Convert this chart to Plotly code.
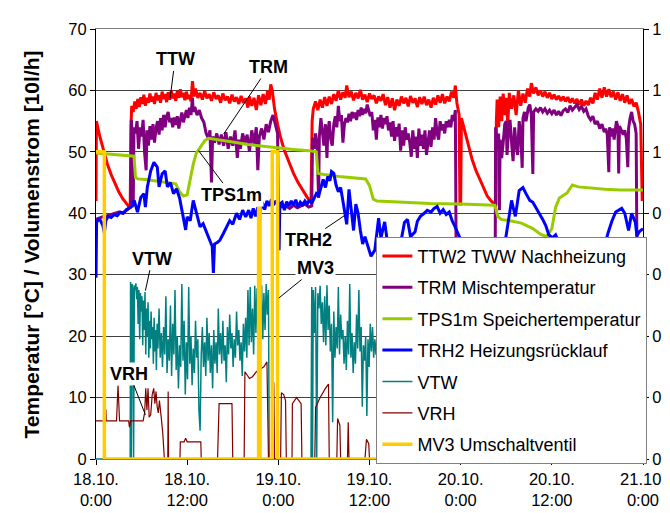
import plotly.graph_objects as go

# ---------------- data (hours since 18.10. 0:00) ----------------
ttw_t = [0.0,0.05,0.5,1.0,1.5,2.0,2.5,3.0,3.5,4.0,4.5,4.6,4.7,4.9,5.1,5.3,5.5,5.7,5.9,6.1,6.3,6.5,6.7,6.9,7.1,7.3,7.5,7.7,7.9,8.1,8.3,8.5,8.7,8.9,9.1,9.3,9.5,9.7,9.9,10.1,10.3,10.5,10.7,10.9,11.1,11.3,11.5,11.7,11.9,12.1,12.3,12.5,12.7,12.9,
         13.1,13.4,13.7,14.0,14.3,14.6,14.9,15.2,15.5,15.8,16.1,16.4,16.7,17.0,17.3,17.6,17.9,18.2,18.5,18.8,19.1,19.4,19.7,20.0,20.2,20.5,20.8,21.1,21.4,21.7,22.0,22.3,22.6,22.8,23.0,23.2,23.5,23.9,24.3,24.8,25.4,26.0,26.6,27.2,27.8,28.3,
         28.45,28.6,28.9,29.2,29.5,29.8,30.1,30.4,30.7,31.0,31.3,31.6,31.9,32.2,32.5,32.8,33.0,33.3,33.6,33.9,34.2,34.5,34.8,35.1,35.4,35.7,36.0,36.3,36.6,36.9,37.2,37.5,37.8,38.1,38.4,38.7,39.0,39.3,39.6,39.9,40.2,40.5,40.8,41.1,41.4,41.7,42.0,42.3,42.6,42.9,43.2,43.5,43.8,44.1,44.4,44.7,45.0,45.3,45.6,45.9,46.2,46.5,46.8,47.1,47.3,47.5,47.8,47.9,48.0,48.1,48.5,49.0,49.5,50.0,50.5,51.0,51.5,52.0,52.5,52.65,
         52.7,52.8,53.0,53.2,53.4,53.6,53.8,54.0,54.2,54.4,54.7,55.0,55.3,55.6,55.9,56.2,56.5,56.8,57.1,57.3,57.6,57.9,58.2,58.5,58.8,59.1,59.4,59.7,60.0,60.3,60.6,60.9,61.2,61.5,61.8,62.1,62.4,62.7,63.0,63.3,63.6,63.9,64.2,64.5,64.8,65.1,65.4,65.7,66.0,66.3,66.6,66.9,67.2,67.5,67.8,68.1,68.4,68.7,69.0,69.3,69.6,69.9,70.2,70.5,70.8,71.1,71.4,71.7,71.9]
ttw_v = [42.0,55.0,52.5,50.0,48.0,46.3,44.8,43.5,42.4,41.5,40.8,54.0,57.5,56.5,58.2,57.0,58.6,57.3,58.9,57.8,59.3,57.5,58.8,58.0,59.5,58.2,59.0,57.8,59.6,58.4,59.2,58.0,59.8,58.6,59.4,58.1,59.7,58.5,60.0,58.7,59.5,58.3,59.9,58.8,60.2,58.9,59.6,58.4,59.8,58.6,59.3,58.2,61.5,59.0,
         60.3,58.8,59.6,58.5,59.9,58.7,59.4,58.3,59.7,58.6,59.2,58.0,59.5,58.4,59.0,57.9,59.3,58.2,58.9,57.8,59.1,58.0,58.7,57.2,59.0,57.5,58.8,56.8,59.2,57.6,59.4,57.8,60.0,58.5,61.0,60.0,57.0,54.5,52.3,50.2,48.2,46.5,45.0,43.7,42.6,41.8,
         55.0,57.0,58.2,56.8,58.5,57.2,58.9,57.5,59.0,57.8,59.4,58.3,60.0,58.5,59.7,58.8,60.8,58.9,59.8,58.4,59.6,58.7,60.1,58.5,59.3,58.1,59.5,58.6,59.2,57.9,59.0,58.3,59.4,57.6,58.9,57.2,58.7,56.8,58.5,57.5,59.0,57.9,58.8,57.4,59.1,58.0,58.7,57.3,58.9,57.8,59.0,57.6,58.5,57.2,58.8,57.7,59.2,58.0,59.4,57.9,59.0,58.2,59.8,58.8,60.8,58.0,56.0,41.5,41.5,55.5,53.5,51.0,48.8,47.0,45.5,44.0,42.8,42.0,41.5,41.3,
         55.0,58.5,54.0,59.0,55.0,59.5,56.0,58.8,54.5,59.6,57.0,59.2,56.0,60.0,57.5,59.5,58.0,60.3,59.0,61.2,59.5,60.5,59.2,60.0,59.0,59.8,58.8,59.6,58.6,59.3,58.5,59.1,58.3,59.0,58.2,58.9,58.0,58.7,57.9,58.6,57.7,58.5,57.5,58.3,57.6,58.8,57.9,59.6,58.5,60.3,58.8,60.5,59.0,60.2,58.9,59.8,58.5,59.7,58.3,59.4,58.0,59.2,57.8,58.6,57.4,58.0,56.5,54.5,42.0]

trm_t = [0.0,0.5,1.0,1.5,2.0,2.5,3.0,3.5,4.0,4.4,4.55,4.65,4.8,4.9,5.0,5.2,5.4,5.6,5.8,6.0,6.2,6.4,6.6,6.7,6.9,7.1,7.3,7.5,7.7,7.9,8.1,8.3,8.5,8.7,8.9,9.1,9.3,9.5,9.7,9.9,10.1,10.3,10.5,10.7,10.9,11.1,11.3,11.5,11.7,11.9,12.1,12.3,12.5,12.7,12.8,13.0,13.3,13.6,13.9,14.2,14.5,14.8,15.0,15.2,15.35,15.6,15.9,16.2,16.5,16.8,17.1,17.4,17.7,18.0,18.3,18.6,18.8,19.0,19.3,19.6,19.9,20.2,20.5,20.8,21.1,21.3,21.5,21.8,22.1,22.4,22.7,23.0,23.3,23.6,23.9,24.0,
         24.3,25.0,25.5,26.0,26.5,27.0,27.5,28.0,28.4,
         28.5,28.7,28.9,29.1,29.3,29.4,29.6,29.8,30.0,30.2,30.4,30.5,30.7,30.9,31.1,31.3,31.5,31.7,31.9,32.1,32.3,32.5,32.7,32.9,33.1,33.3,33.5,33.7,33.9,34.1,34.3,34.5,34.7,34.9,35.1,35.3,35.5,35.7,35.9,36.1,36.3,36.5,36.7,36.9,37.1,37.3,37.5,37.7,37.9,38.1,38.3,38.5,38.7,38.9,39.1,39.3,39.5,39.7,39.9,40.1,40.3,40.5,40.7,40.9,41.1,41.3,41.5,41.7,41.9,42.1,42.3,42.5,42.7,42.9,43.1,43.3,43.5,43.7,43.9,44.1,44.3,44.5,44.7,44.9,45.1,45.3,45.5,45.7,45.9,46.1,46.3,46.5,46.7,46.9,47.1,47.3,47.4,
         50.0,52.55,52.6,52.8,53.0,53.1,53.2,53.4,53.6,53.8,54.0,54.1,54.3,54.5,54.7,54.9,55.1,55.3,55.5,55.7,55.9,56.1,56.2,56.4,56.6,56.9,57.1,57.3,57.5,57.6,57.9,58.2,58.5,58.8,59.1,59.4,59.7,60.0,60.3,60.6,60.9,61.2,61.5,61.8,62.1,62.4,62.7,63.0,63.3,63.6,63.9,64.2,64.5,64.8,65.1,65.4,65.7,66.0,66.3,66.6,66.9,67.1,67.3,67.5,67.6,67.8,68.0,68.2,68.5,68.7,68.8,68.9,69.1,69.4,69.6,69.8,70.0,70.1,70.3,70.5,70.7,70.9,71.1,71.2,72.0]
trm_v = [39.0,39.3,39.5,39.6,39.8,40.0,40.2,40.0,40.5,40.8,41.0,55.2,52.0,41.5,54.0,53.0,55.0,50.5,54.0,52.5,55.2,49.8,47.0,53.5,51.0,54.2,52.0,54.5,51.5,53.8,55.0,52.8,55.5,53.5,56.0,54.0,55.8,56.5,54.8,55.5,54.0,55.6,54.4,55.8,53.8,55.2,56.4,54.8,56.0,56.8,55.5,57.2,56.0,58.8,56.5,57.3,56.0,56.8,55.5,54.8,53.0,52.2,53.5,45.0,52.5,51.5,53.0,51.2,52.8,51.0,53.2,50.5,52.5,51.0,53.5,49.0,52.0,50.5,53.0,51.5,52.8,50.0,53.5,51.2,54.0,47.0,52.5,53.8,52.0,54.5,53.2,55.0,56.0,54.5,53.0,41.5,
         41.0,41.2,40.8,41.3,40.9,41.2,41.5,41.0,41.2,
         52.3,50.5,53.0,51.0,42.5,52.5,55.5,53.5,51.0,54.5,49.0,53.0,55.0,52.0,51.0,54.5,55.8,54.0,57.5,55.0,56.0,51.5,54.5,55.5,54.8,56.2,55.0,56.5,55.5,56.4,55.2,56.8,55.8,57.2,56.0,57.0,56.3,57.7,56.5,55.8,56.5,53.5,55.2,52.0,55.6,54.0,56.0,53.8,55.5,54.5,55.8,53.5,54.8,52.5,55.0,51.8,54.0,52.5,54.6,50.2,53.5,51.0,54.0,52.0,53.0,51.5,49.2,53.5,50.5,52.5,49.0,53.8,51.0,52.8,50.5,53.5,49.5,52.0,53.5,50.8,54.0,52.0,55.5,53.0,52.0,55.0,53.5,54.5,53.0,55.0,54.0,55.2,54.0,56.0,55.0,56.8,34.0,
         33.5,34.0,54.0,50.5,53.0,40.5,52.0,49.0,51.5,54.5,55.0,49.5,53.5,55.2,51.5,48.5,54.0,51.0,49.5,55.0,53.0,47.4,55.5,56.5,55.0,57.2,57.7,56.0,46.4,56.5,57.0,56.6,57.2,56.5,57.0,56.3,56.8,56.2,56.8,56.0,56.6,55.9,56.7,57.0,56.4,57.5,56.8,57.3,57.7,56.9,57.4,56.6,57.0,55.8,55.2,55.8,54.5,55.0,53.8,54.5,53.2,53.8,52.8,46.7,54.0,52.5,53.8,52.0,55.0,54.0,46.5,54.2,53.5,52.8,53.5,52.2,47.5,53.8,55.5,56.5,55.0,54.5,53.0,34.0,34.0]

tps_t = [0.0,1.0,2.0,3.0,4.0,5.0,5.2,5.5,6.5,7.5,8.5,9.5,10.5,11.0,11.5,12.0,12.4,12.8,13.2,13.8,14.3,14.8,16.0,18.0,20.0,22.0,24.0,26.0,28.0,29.0,29.2,30.0,32.0,34.0,35.5,36.0,36.5,37.0,40.0,44.0,48.0,52.5,52.9,53.3,54.5,56.0,57.5,58.5,59.3,60.0,60.5,61.0,62.0,62.7,63.5,65.0,67.0,69.0,72.0]
tps_v = [49.8,49.7,49.6,49.5,49.4,49.3,45.8,45.6,45.5,45.3,45.2,45.0,44.8,43.5,42.8,43.0,45.5,48.0,49.8,51.0,51.8,52.2,52.0,51.6,51.2,50.9,50.6,50.4,50.2,50.0,46.5,46.3,46.0,45.8,45.6,44.5,42.3,42.0,41.8,41.6,41.5,41.3,39.5,39.0,38.8,38.4,37.5,36.6,36.2,37.5,41.0,42.5,43.3,44.6,44.3,44.1,43.9,43.8,43.8]

trh_t = [0.0,0.08,0.3,0.6,0.9,1.1,1.3,1.6,2.0,2.4,2.8,3.2,3.6,4.0,4.4,4.8,5.03,5.46,5.9,6.3,6.5,6.76,7.2,7.63,8.07,8.3,8.7,9.1,9.4,9.8,10.2,10.6,11.0,11.5,11.8,12.0,12.4,12.8,13.2,13.7,14.1,14.6,15.0,15.3,15.45,15.6,16.0,16.3,16.8,17.2,17.6,18.0,18.5,18.9,19.3,19.7,20.1,20.4,20.7,21.0,21.3,21.6,21.9,22.2,22.5,22.8,23.1,23.4,23.7,24.0,24.1,24.2,24.5,24.8,25.1,25.4,25.7,26.0,26.3,26.6,26.9,27.2,27.5,27.8,28.1,28.4,28.7,29.0,29.3,29.6,29.9,30.2,30.5,30.8,31.0,31.3,31.6,31.9,32.2,32.5,32.8,33.0,33.3,33.6,33.9,34.2,34.5,34.8,35.1,35.4,35.8,36.2,36.7,37.2,37.5,38.0,38.5,40.0,40.6,41.0,41.4,42.0,42.3,42.7,43.2,43.6,44.1,44.5,44.9,45.3,45.7,46.1,46.5,46.9,47.2,47.5,47.9,48.5,50.0,52.0,53.5,54.0,54.4,54.7,54.9,55.2,55.7,56.2,56.6,57.1,57.5,57.9,58.4,58.8,59.2,59.6,60.1,60.5,61.0,63.0,65.0,66.8,67.4,67.9,68.4,68.8,69.2,69.6,70.1,70.5,71.0,71.2,71.5,72.0]
trh_v = [29.5,38.5,39.0,38.8,38.0,36.8,38.8,39.5,39.3,39.8,39.6,40.2,40.0,40.6,40.9,41.2,42.1,40.2,42.6,43.2,41.0,44.3,46.9,48.3,47.5,44.3,46.4,46.9,44.3,45.0,43.2,44.0,42.5,39.4,37.3,39.4,38.8,42.1,40.0,37.8,38.3,36.7,35.6,34.6,30.3,35.0,35.3,35.6,36.8,37.8,38.8,38.2,40.0,39.0,40.5,39.4,40.5,39.2,40.8,39.5,41.0,40.2,41.8,40.6,42.0,41.2,42.3,41.5,42.0,41.0,34.0,41.5,41.8,40.5,41.9,41.2,42.0,41.3,42.2,41.0,41.8,41.4,42.0,41.5,42.2,41.6,42.5,43.2,42.8,44.0,45.5,44.2,46.0,45.3,46.8,46.5,44.6,43.5,44.2,42.0,39.2,38.2,43.9,40.0,37.2,41.5,40.0,37.2,35.0,36.2,34.5,33.0,34.0,39.2,36.0,38.6,34.0,34.5,38.5,39.0,36.2,37.0,38.7,39.5,40.0,40.5,40.2,40.8,41.1,40.0,40.6,39.8,40.2,38.7,38.0,37.2,36.0,33.0,32.0,31.5,33.0,36.5,40.0,42.1,41.0,39.5,43.7,44.2,43.2,42.1,41.8,41.0,40.0,39.0,38.0,36.5,36.0,36.5,35.0,33.0,32.5,34.0,36.8,38.7,40.2,40.5,40.8,40.0,37.2,40.0,38.5,36.3,37.0,37.5]

vtw_t = [0.0,4.5,4.55,4.65,4.75,4.85,4.95,5.05,5.15,5.25,5.35,5.45,5.55,5.65,5.75,5.85,5.95,6.05,6.15,6.25,6.35,6.45,6.55,6.65,6.75,6.85,6.95,7.05,7.15,7.25,7.35,7.45,7.55,7.65,7.75,7.85,7.95,8.05,8.15,8.3,8.45,8.6,8.75,8.9,9.05,9.2,9.35,9.5,9.65,9.8,9.95,10.1,10.25,10.4,10.55,10.7,10.85,11.0,11.15,11.3,11.45,11.6,11.75,11.9,12.05,12.2,12.35,12.5,12.65,12.8,12.95,13.1,13.25,13.4,13.55,13.7,13.85,14.0,14.15,14.3,14.45,14.6,14.75,14.9,15.05,15.2,15.35,15.5,15.65,15.8,15.95,16.1,16.25,16.4,16.55,16.7,16.85,17.0,17.15,17.3,17.45,17.6,17.75,17.9,18.05,18.2,18.35,18.5,18.65,18.8,18.95,19.1,19.25,19.4,19.55,19.7,19.85,20.0,20.15,20.3,20.45,20.6,20.75,20.9,21.05,21.2,21.35,21.5,21.65,21.8,21.95,22.1,22.25,22.4,22.55,22.7,22.8,
         28.3,28.4,28.5,28.6,28.75,28.9,29.05,29.2,29.35,29.5,29.65,29.8,29.95,30.1,30.25,30.4,30.55,30.7,30.85,31.0,31.15,31.3,31.45,31.6,31.75,31.9,32.05,32.2,32.35,32.5,32.65,32.8,32.95,33.1,33.25,33.4,33.55,33.7,33.85,34.0,34.15,34.3,34.45,34.6,34.75,34.9,35.05,35.2,35.35,35.5,35.65,35.8,35.95,36.1,36.25,36.4,36.55,36.7,36.85,37.0,37.5,38.0,
         52.6,52.7,53.5,55.0,57.0,60.0,63.0,66.0,69.0,71.2,72.0]
vtw_v = [0.0,0.0,28.8,0.0,28.5,27.8,0.0,28.3,27.5,28.6,26.0,28.0,22.0,27.5,19.5,27.0,24.0,26.5,18.5,25.8,21.0,27.2,17.0,24.5,20.0,25.5,16.5,22.5,18.0,24.0,19.5,21.5,15.5,23.0,17.5,21.0,14.5,22.0,18.0,24.5,16.5,20.5,15.0,21.5,17.0,26.5,14.0,19.5,16.0,25.0,13.5,22.0,17.0,27.5,14.5,20.0,11.5,18.5,15.0,28.5,16.0,22.5,10.5,19.0,13.0,28.0,15.5,20.0,12.0,18.0,14.0,22.5,16.5,19.5,8.0,4.6,17.0,21.5,15.0,19.0,13.5,23.0,16.0,20.5,14.0,18.5,11.5,21.0,15.5,19.0,14.0,24.5,17.0,20.5,15.5,22.5,16.0,18.5,12.5,21.5,17.0,23.5,18.0,20.5,15.0,19.5,16.5,24.0,18.5,21.0,16.0,19.0,13.5,22.0,17.5,23.0,16.5,27.5,18.5,28.0,19.0,24.5,17.0,28.2,20.5,27.8,18.0,26.0,22.0,28.3,19.5,27.0,21.0,28.5,23.5,27.5,0.0,
         0.0,28.0,0.0,27.5,20.5,28.0,0.0,27.0,24.5,28.2,22.0,25.5,19.0,26.5,18.5,28.3,21.0,25.0,17.5,22.0,6.0,24.0,16.5,21.5,18.0,28.0,17.0,23.5,19.5,21.0,15.5,20.0,14.5,22.5,17.0,28.5,16.5,20.5,14.0,19.0,15.5,23.5,18.0,27.5,17.5,21.5,8.5,18.5,16.0,20.0,7.0,19.5,15.0,22.0,17.5,21.5,16.5,19.5,17.0,20.0,18.0,0.0,
         0.0,27.0,18.0,24.0,16.0,20.0,15.0,22.0,18.0,0.0,0.0]

vrh_t = [0.0,1.05,1.1,1.3,1.35,2.7,2.9,3.1,4.3,4.4,4.55,6.2,6.4,6.55,6.7,6.85,7.0,7.2,7.4,7.6,7.75,7.9,8.05,8.2,8.35,8.5,8.65,8.8,9.0,9.45,9.5,9.55,11.05,11.1,11.6,11.8,12.0,13.8,13.85,16.0,16.2,17.9,18.0,19.5,19.6,20.2,20.6,21.1,21.6,22.1,22.5,22.7,23.3,23.4,23.5,24.3,24.4,24.7,24.95,25.05,25.8,25.85,26.4,27.0,27.1,28.8,28.9,29.5,30.2,30.6,30.7,31.7,31.8,32.1,32.2,33.1,33.2,33.3,35.4,35.6,35.9,36.0,72.0]
vrh_v = [6.2,6.2,8.0,8.0,6.2,6.2,12.0,6.2,6.2,5.2,6.2,6.2,7.5,11.5,8.0,11.5,6.8,7.2,10.5,11.5,9.0,11.0,8.5,7.5,9.5,7.0,6.0,4.0,0.0,0.0,11.0,0.0,0.0,2.8,2.8,3.4,2.8,2.8,0.0,0.0,9.0,9.0,0.0,0.0,14.2,13.1,13.4,14.2,14.6,15.0,15.8,0.0,0.0,12.5,0.0,0.0,10.8,10.5,9.5,0.0,0.0,9.0,10.0,9.0,0.0,0.0,8.4,10.0,11.5,12.2,0.0,0.0,6.6,5.5,0.0,0.0,6.0,0.0,0.0,3.2,2.5,0.0,0.0]

mv3_t = [0.0,1.1,1.1,21.4,21.4,21.6,21.6,23.2,23.2,23.9,23.9,72.0]
mv3_v = [50,50,0,0,41,41,0,0,50,50,0,0]

tick_hours = [0, 12, 24, 36, 48, 60, 72]
tick_labels = ["18.10.<br>0:00", "18.10.<br>12:00", "19.10.<br>0:00", "19.10.<br>12:00",
               "20.10.<br>0:00", "20.10.<br>12:00", "21.10.<br>0:00"]
# right axis labels as they are visible in the reference (cut at the picture edge there)
right_vals = [0, 0.2, 0.4, 0.6, 0.8, 1.0, 1.2, 1.4]
right_labels = ["0", "0.", "0.", "0.", "0.", "1", "1.", "1."]

series = [
    ("TTW2 TWW Nachheizung", ttw_t, ttw_v, "#FF0000", 3),
    ("TRM Mischtemperatur", trm_t, trm_v, "#800080", 3),
    ("TPS1m Speichertemperatur", tps_t, tps_v, "#99CC00", 3),
    ("TRH2 Heizungsrücklauf", trh_t, trh_v, "#0000FF", 3),
    ("VTW", vtw_t, vtw_v, "#008080", 1.5),
    ("VRH", vrh_t, vrh_v, "#800000", 1.2),
    ("MV3 Umschaltventil", mv3_t, mv3_v, "#FFCC00", 3.5),
]

FONT = "Arial, Liberation Sans, sans-serif"
fig = go.Figure()
for i, (name, t, v, col, w) in enumerate(series):
    fig.add_trace(go.Scatter(x=t, y=v, mode="lines", name=name, legendgroup=f"g{i}",
                             line=dict(color=col, width=w)))
# empty trace so that the secondary (right) axis gets drawn
fig.add_trace(go.Scatter(x=[], y=[], yaxis="y2", showlegend=False, hoverinfo="skip"))

ann = [
    ("TTW", 9.75, 58.7, 5, -39),
    ("TRM", 16.8, 52.9, 45, -67),
    ("TPS1m", 13.5, 50.2, 33, 44),
    ("TRH2", 32.8, 39.7, -37, 25),
    ("VTW", 6.5, 27.4, 7, -32),
    ("VRH", 6.5, 7.2, -16, -41),
    ("MV3", 24.06, 26.2, 37, -30),
]
annotations = []
for txt, x, y, ax, ay in ann:
    annotations.append(dict(x=x, y=y, xref="x", yref="y", text=f"<b>{txt}</b>", showarrow=True,
                            arrowhead=0, arrowwidth=1, arrowcolor="black", ax=ax, ay=ay,
                            bgcolor="white", borderpad=1,
                            font=dict(family=FONT, size=18, color="black")))
annotations.append(dict(x=-0.118, y=0.5, xref="paper", yref="paper", showarrow=False,
                        xanchor="center", yanchor="middle",
                        text="<b>Temperatur [°C] / Volumenstrom [10l/h]</b>", textangle=-90,
                        font=dict(family=FONT, size=21, color="black")))

fig.update_layout(
    width=670, height=513,
    margin=dict(l=88, r=28, t=20, b=58),
    paper_bgcolor="white", plot_bgcolor="white",
    font=dict(family=FONT, size=16.5, color="black"),
    showlegend=True,
    legend=dict(x=0.5126, y=0.517, xanchor="left", yanchor="top", bgcolor="white",
                bordercolor="#808080", borderwidth=1, tracegroupgap=5,
                font=dict(family=FONT, size=18, color="black")),
    annotations=annotations,
    xaxis=dict(range=[0, 72], tickvals=tick_hours, ticktext=tick_labels, ticks="outside",
               ticklen=5, tickcolor="black", showgrid=False, zeroline=False, showline=True,
               linecolor="#808080", mirror=True, tickfont=dict(size=16.5)),
    yaxis=dict(range=[0, 70], dtick=10, ticks="outside", ticklen=5, tickcolor="black",
               showgrid=True, gridcolor="#404040", gridwidth=1, zeroline=False,
               showline=True, linecolor="black", tickfont=dict(size=16.5)),
    yaxis2=dict(range=[0, 1.4], overlaying="y", side="right", tickvals=right_vals,
                ticktext=right_labels, ticks="outside", ticklen=5, tickcolor="black",
                showgrid=False, zeroline=False, showline=True, linecolor="black",
                automargin=False, tickfont=dict(size=16.5)),
)
fig.write_html("out.html")
